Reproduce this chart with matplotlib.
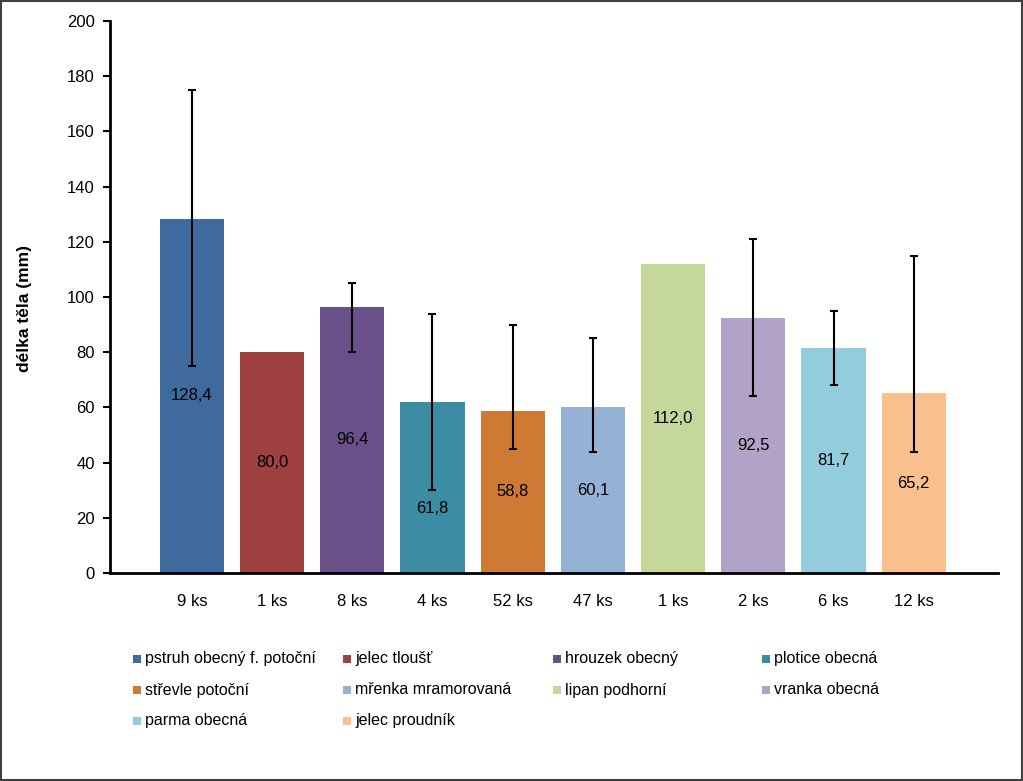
import matplotlib
matplotlib.use("Agg")
import matplotlib.pyplot as plt
from matplotlib import font_manager
from matplotlib.patches import Rectangle
from matplotlib.transforms import offset_copy
import numpy as np

names = {f.name for f in font_manager.fontManager.ttflist}
FONT = "Liberation Sans Narrow" if "Liberation Sans Narrow" in names else "Liberation Sans"
plt.rcParams['font.family'] = [FONT, 'DejaVu Sans']

species = ["pstruh obecný f. potoční", "jelec tloušť", "hrouzek obecný", "plotice obecná",
           "střevle potoční", "mřenka mramorovaná", "lipan podhorní", "vranka obecná",
           "parma obecná", "jelec proudník"]
counts = ["9 ks", "1 ks", "8 ks", "4 ks", "52 ks", "47 ks", "1 ks", "2 ks", "6 ks", "12 ks"]
means = [128.4, 80.0, 96.4, 61.8, 58.8, 60.1, 112.0, 92.5, 81.7, 65.2]
err_low = [75, None, 80, 30, 45, 44, None, 64, 68, 44]
err_high = [175, None, 105, 94, 90, 85, None, 121, 95, 115]
colors = ["#3F6A9D", "#9E4140", "#6A5088", "#3C8CA4", "#CE7A35",
          "#95B2D6", "#C5D79B", "#B1A2C8", "#92CCDD", "#F9BF8C"]

W, H = 1023, 781
fig = plt.figure(figsize=(W/100, H/100), dpi=100)
ax = fig.add_axes([110/W, 1-573/H, (998-110)/W, (573-21)/H])

FS = 12
x = np.arange(len(means))
ax.bar(x, means, width=0.8, color=colors, zorder=2)
label_shift_pt = {3: -15}  # manually moved label in the original
for i in range(len(means)):
    if err_low[i] is not None:
        ax.errorbar(x[i], means[i], yerr=[[means[i]-err_low[i]], [err_high[i]-means[i]]],
                    fmt='none', ecolor='black', elinewidth=1.5, capsize=3.2, capthick=1.5, zorder=3)
    tr = offset_copy(ax.transData, fig=fig, y=label_shift_pt.get(i, 0), units='points')
    ax.text(x[i], means[i]/2, f"{means[i]:.1f}".replace('.', ','), ha='center', va='center',
            fontsize=FS, color='black', zorder=4, transform=tr)

ax.set_xlim(-1.02, 10.05)
ax.set_ylim(0, 200)
ax.set_yticks(np.arange(0, 201, 20))
ax.set_xticks(x)
ax.set_xticklabels(counts, fontsize=FS)
ax.tick_params(axis='x', length=0, pad=15)
ax.tick_params(axis='y', length=5, width=1.5, direction='out', labelsize=FS, pad=6)
for s in ['top', 'right']:
    ax.spines[s].set_visible(False)
for s in ['left', 'bottom']:
    ax.spines[s].set_linewidth(2)
ax.set_ylabel("délka těla (mm)", fontsize=12.5, fontweight='bold')
ax.yaxis.set_label_coords(-(110-32)/(998-110), (573-309)/(573-21))

# legend (row-major, 4 columns)
col_x = [133, 343, 553, 762]
row_y = [659, 690, 721]
for i, (name, c) in enumerate(zip(species, colors)):
    r, k = divmod(i, 4)
    px, py = col_x[k], row_y[r]
    fig.add_artist(Rectangle((px/W, 1-(py+4)/H), 8/W, 8/H, transform=fig.transFigure,
                             facecolor=c, edgecolor='none'))
    fig.text((px+12)/W, 1-py/H, name, ha='left', va='center', fontsize=11.5)

fig.add_artist(Rectangle((1/W, 1/H), (W-2)/W, (H-2)/H, transform=fig.transFigure,
                         facecolor='none', edgecolor='#404040', linewidth=1.5))

fig.savefig("out.png", dpi=100)
